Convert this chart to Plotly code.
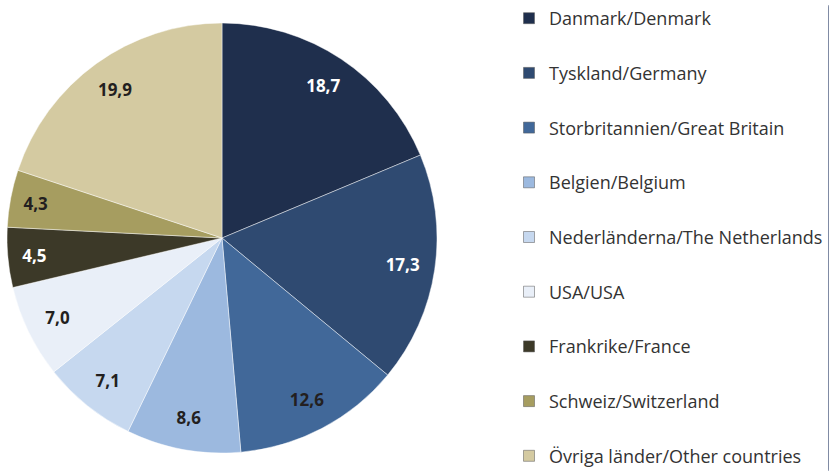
import plotly.graph_objects as go

countries = ["Danmark/Denmark", "Tyskland/Germany", "Storbritannien/Great Britain",
             "Belgien/Belgium", "Nederländerna/The Netherlands", "USA/USA",
             "Frankrike/France", "Schweiz/Switzerland", "Övriga länder/Other countries"]
shares = [18.7, 17.3, 12.6, 8.6, 7.1, 7.0, 4.5, 4.3, 19.9]
colors = ["#1f2f4d", "#2f4a71", "#416899", "#9cb9df", "#c6d8ef", "#e9eff8",
          "#3c3928", "#a69d60", "#d4caa1"]
label_colors = ["#ffffff", "#ffffff", "#231f20", "#231f20", "#231f20", "#231f20",
                "#ffffff", "#231f20", "#231f20"]

W, H = 829, 471
cx, cy, R = 222, 238, 215
dom_x = [(cx - R) / W, (cx + R) / W]
dom_y = [(H - cy - R) / H, (H - cy + R) / H]

fig = go.Figure()

# base pie (colored slices)
fig.add_trace(go.Pie(
    labels=countries, values=shares, sort=False, direction="clockwise", rotation=0,
    marker=dict(colors=colors, line=dict(color="rgba(255,255,255,0.45)", width=1)),
    textinfo="none", showlegend=False, domain=dict(x=dom_x, y=dom_y),
    hoverinfo="label+value",
))
# transparent ring carrying the value labels near the rim
fig.add_trace(go.Pie(
    labels=countries, values=shares, sort=False, direction="clockwise", rotation=0,
    hole=0.7,
    marker=dict(colors=["rgba(0,0,0,0)"] * len(shares), line=dict(width=0)),
    texttemplate="%{value:.1f}", textposition="inside",
    insidetextorientation="horizontal",
    textfont=dict(family="Open Sans", size=17, color=label_colors, weight="bold"),
    showlegend=False, domain=dict(x=dom_x, y=dom_y), hoverinfo="skip",
))

# legend entries
for name, col in zip(countries, colors):
    fig.add_trace(go.Scatter(
        x=[None], y=[None], mode="markers", name=name, legendgroup=name,
        marker=dict(symbol="square", size=11, color=col,
                    line=dict(color="#555555", width=0.5)),
        hoverinfo="skip",
    ))

fig.update_layout(
    width=W, height=H,
    margin=dict(l=0, r=0, t=0, b=0),
    paper_bgcolor="white", plot_bgcolor="white",
    separators=",.",
    xaxis=dict(visible=False), yaxis=dict(visible=False),
    legend=dict(
        x=509 / W, xanchor="left", y=1.0, yanchor="top",
        font=dict(family="Open Sans", size=18, color="#333333"),
        tracegroupgap=28.3, itemwidth=30, bgcolor="rgba(0,0,0,0)",
    ),
    showlegend=True,
)

fig.write_html("out.html", config={"displayModeBar": False},
               post_script="document.body.style.margin='0';document.body.style.overflow='hidden';")
